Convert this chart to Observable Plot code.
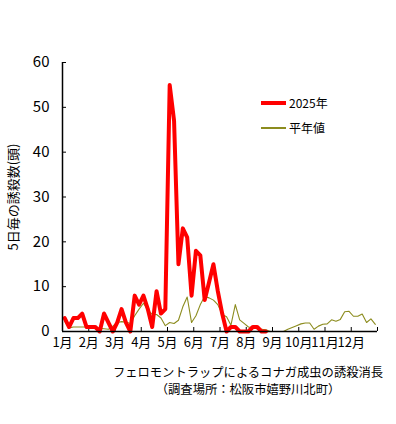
<!DOCTYPE html>
<html><head><meta charset="utf-8">
<script src="https://cdn.jsdelivr.net/npm/d3@7"></script>
<script src="https://cdn.jsdelivr.net/npm/@observablehq/plot@0.6"></script>
<style>
body{margin:0;background:#fff;}
#wrap{position:relative;width:396px;height:424px;font-family:"Noto Sans CJK JP",sans-serif;}
.leg{position:absolute;left:261px;font-size:12px;color:#000;display:flex;align-items:center;line-height:1;}
.leg span.sw{display:inline-block;width:25px;margin-right:3px;}
</style></head><body><div id="wrap"></div>
<script>
const months = ["1月","2月","3月","4月","5月","6月","7月","8月","9月","10月","11月","12月"];
const yTicks = [0,10,20,30,40,50,60];
const monthTicks = [0,6,12,18,24,30,36,42,48,54,60,66,72];
// 5-day interval counts, 2025
const y2025 = [3,1,3,3,4,1,1,1,0,4, 2,0,2,5,2,0,8,6,8,5, 1,9,4,5,55,47,15,23,21,8, 18,17,7,11,15,9,4,0,1,1, 0,0,0,1,1,0,0];
// normal-year values (平年値)
const normal = [2.3,0.8,1,1,1,1,0.8,0.8,0.7,0.6, 0.5,1.2,2,2.2,2.1,1.8,3.5,5,6.3,4.8, 3.8,3.8,3,1.3,2,1.8,2.5,5.5,7.7,2, 3.5,6,7.8,7.5,7,6,3.8,3.3,1.4,6, 2.6,1.8,1,0.8,0.6,0.5,0.4,0,0,0, 0,0.5,0.9,1.3,1.7,1.9,1.9,0.5,1.2,1.6, 1.7,2.6,2.3,2.7,4.4,4.5,3.4,3.4,3.9,2, 2.8,1.6];
const captionTitle = "フェロモントラップによるコナガ成虫の誘殺消長";
const captionPlace = "（調査場所：松阪市嬉野川北町）";
const yLabel = "5日毎の誘殺数(頭)";
const legendNames = ["2025年","平年値"];

const font = '"Noto Sans CJK JP", sans-serif';
const s2025 = y2025.map((v,i)=>({x:i+0.5,y:v}));
const sNormal = normal.map((v,i)=>({x:i+0.5,y:v}));

const chart = Plot.plot({
  width:396, height:424,
  marginLeft:62, marginRight:19, marginTop:62, marginBottom:93,
  style:{fontFamily:font, fontSize:"13px", color:"#000", background:"#fff"},
  x:{domain:[0,72], axis:null},
  y:{domain:[0,60], axis:null},
  marks:[
    Plot.axisY({ticks:yTicks, tickSize:-4, tickPadding:17, fontSize:15, tickFormat:d=>String(d), label:null, stroke:"#000"}),
    Plot.axisX({ticks:monthTicks, tickSize:-4, tickPadding:10, fontSize:13, tickFormat:d=>months[d/6] ?? "", label:null}),
    Plot.line(sNormal, {x:"x", y:"y", stroke:"#8c8c1e", strokeWidth:1.1}),
    Plot.line(s2025, {x:"x", y:"y", stroke:"#ff0000", strokeWidth:4}),
    Plot.ruleY([0], {stroke:"#000", strokeWidth:1.5}),
    Plot.ruleX([0], {stroke:"#000", strokeWidth:1.5}),
    Plot.text([yLabel], {frameAnchor:"left", dx:-49, rotate:-90, fontSize:13, textAnchor:"middle"}),
    Plot.text([captionTitle], {frameAnchor:"bottom", dx:28, dy:45, fontSize:12.3}),
    Plot.text([captionPlace], {frameAnchor:"bottom", dx:28, dy:62, fontSize:12.3})
  ]
});
const wrap = document.getElementById("wrap");
wrap.appendChild(chart);
const leg = [
  {name:legendNames[0], color:"#ff0000", w:4, top:103},
  {name:legendNames[1], color:"#8c8c1e", w:1.1, top:128}
];
for (const l of leg) {
  const d = document.createElement("div");
  d.className = "leg";
  d.style.top = (l.top - 7) + "px";
  d.style.height = "14px";
  d.innerHTML = `<span class="sw" style="height:${l.w}px;background:${l.color}"></span><span>${l.name}</span>`;
  wrap.appendChild(d);
}
</script></body></html>
